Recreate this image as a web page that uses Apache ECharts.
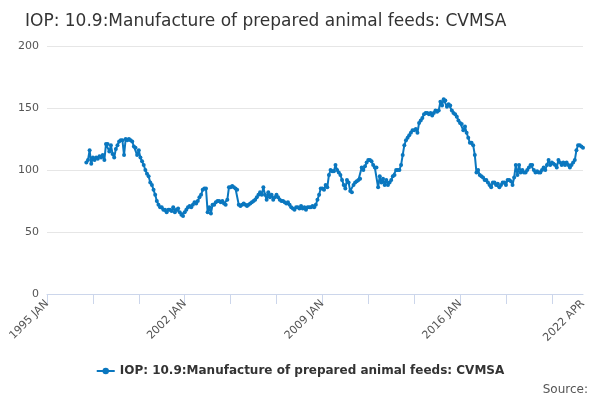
<!DOCTYPE html>
<html>
<head>
<meta charset="utf-8">
<script src="https://cdn.jsdelivr.net/npm/echarts@6/dist/echarts.min.js"></script>
<style>html,body{margin:0;padding:0;background:#fff}#c{width:600px;height:400px}</style>
</head>
<body>
<div id="c"></div>
<script>
var seriesName = 'IOP: 10.9:Manufacture of prepared animal feeds: CVMSA';
var monthNames = ['JAN','FEB','MAR','APR','MAY','JUN','JUL','AUG','SEP','OCT','NOV','DEC'];
var firstYear = 1995, lastYear = 2022, lastMonth = 4;
var labelIdx = [0, 84, 168, 252, 327];

// monthly values per year, 1997 JAN .. 2022 APR
var v1997 = [106,108,116,105,110,108,110,109,111,110,112,108];
var v1998 = [121,121,115,120,113,110,117,120,123,124,124,112];
var v1999 = [125,124,125,124,123,119,118,112,116,110,107,104];
var v2000 = [100,97,95,90,88,84,80,75,72,70,70,68];
var v2001 = [68,66,68,68,67,70,66,68,69,66,64,63];
var v2002 = [66,68,70,71,70,72,74,73,75,78,80,84];
var v2003 = [85,85,66,70,65,72,72,74,75,75,74,75];
var v2004 = [73,72,76,86,86,87,86,85,84,72,71,72];
var v2005 = [73,72,71,72,73,74,75,76,78,80,82,80];
var v2006 = [86,80,76,82,78,80,76,78,80,78,76,75];
var v2007 = [75,74,73,74,72,70,69,68,70,70,69,71];
var v2008 = [69,70,68,70,70,70,71,70,72,76,80,85];
var v2009 = [85,84,88,86,96,100,99,99,104,100,98,96];
var v2010 = [92,88,85,92,90,83,82,88,90,91,92,93];
var v2011 = [102,100,103,106,108,108,107,104,102,102,86,95];
var v2012 = [90,93,88,92,88,90,92,95,96,100,100,100];
var v2013 = [104,112,120,124,126,128,130,132,132,133,130,138];
var v2014 = [140,142,145,146,146,145,146,144,146,148,147,148];
var v2015 = [155,152,157,156,151,153,152,148,146,145,143,140];
var v2016 = [138,137,132,135,130,126,122,122,120,112,98,100];
var v2017 = [96,95,94,92,92,90,88,86,90,90,88,89];
var v2018 = [86,88,90,90,88,92,92,91,88,94,104,96];
var v2019 = [104,98,100,98,98,100,102,104,104,100,98,99];
var v2020 = [98,98,100,102,100,104,108,104,106,105,104,102];
var v2021 = [108,106,104,106,104,106,104,102,104,106,108,116];
var v2022 = [120,120,119,118];

var categories = [];
for (var y = firstYear; y <= lastYear; y++) {
  for (var m = 0; m < 12; m++) {
    if (y === lastYear && m >= lastMonth) break;
    categories.push(y + ' ' + monthNames[m]);
  }
}
var values = [].concat(
  new Array(24).fill(null),
  v1997, v1998, v1999, v2000, v2001, v2002, v2003, v2004, v2005, v2006,
  v2007, v2008, v2009, v2010, v2011, v2012, v2013, v2014, v2015, v2016,
  v2017, v2018, v2019, v2020, v2021, v2022
);

var chart = echarts.init(document.getElementById('c'));
chart.setOption({
  animation: false,
  title: {
    text: seriesName, left: 20, top: 8,
    textStyle: {fontFamily: 'DejaVu Sans', fontSize: 17, fontWeight: 'normal', color: '#333'}
  },
  legend: {
    bottom: 18, left: 'center', itemWidth: 18, itemHeight: 8,
    textStyle: {fontFamily: 'DejaVu Sans', fontSize: 12, fontWeight: 'bold', color: '#333'}
  },
  graphic: [{
    type: 'text', right: 12, bottom: 4,
    style: {text: 'Source:', fontFamily: 'DejaVu Sans', fontSize: 12, fill: '#555'}
  }],
  grid: {left: 47, right: 17, top: 46, bottom: 106},
  xAxis: {
    type: 'category', data: categories, boundaryGap: false,
    axisLine: {lineStyle: {color: '#ccd6eb'}},
    axisTick: {interval: 27, length: 10, lineStyle: {color: '#ccd6eb'}},
    axisLabel: {
      rotate: 45, color: '#555', fontFamily: 'DejaVu Sans', fontSize: 11,
      interval: function (i) { return labelIdx.indexOf(i) >= 0; }
    }
  },
  yAxis: {
    type: 'value', min: 0, max: 200, interval: 50,
    axisLabel: {color: '#555', fontFamily: 'DejaVu Sans', fontSize: 11},
    splitLine: {lineStyle: {color: '#e6e6e6'}}
  },
  series: [{
    name: seriesName, type: 'line', data: values,
    symbol: 'circle', symbolSize: 4, showAllSymbol: true,
    itemStyle: {color: '#0a77bf'}, lineStyle: {width: 2, color: '#0a77bf'}
  }]
});
</script>
</body>
</html>
